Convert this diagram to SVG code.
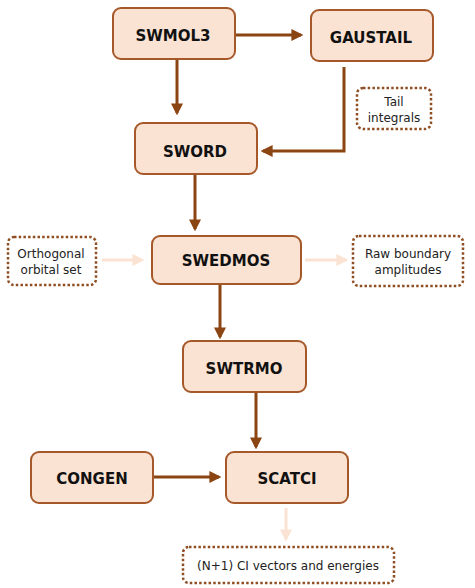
<svg xmlns="http://www.w3.org/2000/svg" width="475" height="588" viewBox="0 0 475 588">
<defs>
<style>
.box{fill:#fbe3d3;stroke:#a5582a;stroke-width:2}
.note{fill:#ffffff;stroke:#8f4f25;stroke-width:2.5;stroke-dasharray:2.5 2.2}
.t{font-family:"DejaVu Sans",Verdana,sans-serif;font-weight:bold;font-size:15px;fill:#111;text-anchor:middle}
.s{font-family:"DejaVu Sans",Verdana,sans-serif;font-size:12px;fill:#222;text-anchor:middle}
.c{fill:none;stroke:#8b4513;stroke-width:3}
.l{fill:none;stroke:#fbe3d3;stroke-width:3}
</style>
<marker id="ah" viewBox="0 0 10 10" refX="8" refY="5" markerWidth="4" markerHeight="4" orient="auto" markerUnits="strokeWidth">
<path d="M0,0 L10,5 L0,10 z" fill="#8b4513"/>
</marker>
<marker id="al" viewBox="0 0 10 10" refX="8" refY="5" markerWidth="4" markerHeight="4" orient="auto" markerUnits="strokeWidth">
<path d="M0,0 L10,5 L0,10 z" fill="#fbe3d3"/>
</marker>
</defs>
<rect width="475" height="588" fill="#ffffff"/>
<g id="connectors">
<path class="c" d="M235,35 H301" marker-end="url(#ah)"/>
<path class="c" d="M177,59 V113" marker-end="url(#ah)"/>
<path class="c" d="M344,67 V151 H263" marker-end="url(#ah)"/>
<path class="c" d="M195,174 V229" marker-end="url(#ah)"/>
<path class="c" d="M220,284 V337" marker-end="url(#ah)"/>
<path class="c" d="M256,392 V447" marker-end="url(#ah)"/>
<path class="c" d="M153,477 H219" marker-end="url(#ah)"/>
<path class="l" d="M102,260 H142" marker-end="url(#al)"/>
<path class="l" d="M305,260 H346" marker-end="url(#al)"/>
<path class="l" d="M286,508 V539" marker-end="url(#al)"/>
</g>
<g id="SWMOL3"><rect class="box" x="113" y="8" width="122" height="51" rx="8"/><text class="t" x="173" y="40.5">SWMOL3</text></g>
<g id="GAUSTAIL"><rect class="box" x="311" y="10" width="122" height="51" rx="8"/><text class="t" x="371" y="43">GAUSTAIL</text></g>
<g id="tail"><rect class="note" x="357" y="88" width="74" height="41" rx="6"/><text class="s" x="394" y="106">Tail</text><text class="s" x="394" y="122">integrals</text></g>
<g id="SWORD"><rect class="box" x="135" y="123" width="122" height="51" rx="8"/><text class="t" x="195" y="156.5">SWORD</text></g>
<g id="SWEDMOS"><rect class="box" x="152" y="236" width="149" height="48" rx="8"/><text class="t" x="226" y="265.5">SWEDMOS</text></g>
<g id="orthogonal"><rect class="note" x="8" y="237" width="88" height="48" rx="6"/><text class="s" x="51" y="258">Orthogonal</text><text class="s" x="51" y="274">orbital set</text></g>
<g id="raw"><rect class="note" x="353" y="236" width="110" height="50" rx="6"/><text class="s" x="408" y="258">Raw boundary</text><text class="s" x="408" y="274">amplitudes</text></g>
<g id="SWTRMO"><rect class="box" x="183" y="341" width="123" height="51" rx="8"/><text class="t" x="244" y="373.5">SWTRMO</text></g>
<g id="CONGEN"><rect class="box" x="31" y="452" width="122" height="51" rx="8"/><text class="t" x="92" y="483.5">CONGEN</text></g>
<g id="SCATCI"><rect class="box" x="226" y="452" width="122" height="51" rx="8"/><text class="t" x="287" y="483.5">SCATCI</text></g>
<g id="output"><rect class="note" x="183" y="547" width="211" height="36" rx="6"/><text class="s" x="288" y="570">(N+1) CI vectors and energies</text></g>
</svg>
